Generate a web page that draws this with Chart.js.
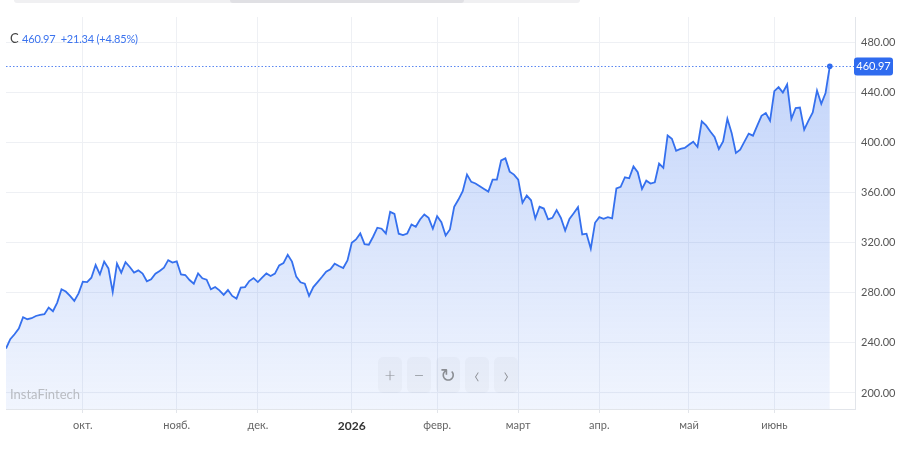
<!DOCTYPE html>
<html>
<head>
<meta charset="utf-8">
<script src="https://cdn.jsdelivr.net/npm/chart.js@4.4.1/dist/chart.umd.min.js"></script>
<style>
    html, body { margin: 0; padding: 0; background: #fff; }
    .wrap { position: relative; width: 900px; height: 452px; overflow: hidden; font-family: 'Lato', 'Noto Sans', sans-serif; }
    canvas { position: absolute; left: 0; top: 0; }
    .scroll { position: absolute; left: 14px; top: 0; width: 566px; height: 3px; background: #f0f0f2; border-radius: 0 0 4px 4px; }
    .scroll span { position: absolute; left: 216px; width: 234px; top: 0; height: 3px; background: #e0e0e4; border-radius: 0 0 3px 3px; }
    .head { position: absolute; left: 10px; top: 30px; font-size: 11px; color: #3b73ee; white-space: nowrap; letter-spacing: -0.2px; }
    .head b { font-weight: normal; color: #444; font-size: 13px; margin-right: 1px; }
    .mark { position: absolute; left: 10px; top: 386px; font-size: 13px; color: #b9bcc2; }
    .btns { position: absolute; left: 378px; top: 357px; display: flex; gap: 5px; }
    .btns div { width: 24px; height: 36px; border-radius: 5px; background: rgba(0,0,0,0.025); color: #8a8d93; font-size: 19px; font-weight: 300; line-height: 36px; text-align: center; }
    .btns div.ch { font-size: 24px; line-height: 34px; }
</style>
</head>
<body>
<div class="wrap">
    <canvas id="priceChart" width="900" height="452"></canvas>
    <div class="scroll"><span></span></div>
    <div class="head"><b>C</b> 460.97 &nbsp;+21.34 (+4.85%)</div>
    <div class="mark">InstaFintech</div>
    <div class="btns"><div>+</div><div>&minus;</div><div>&#x21BB;</div><div class="ch">&lsaquo;</div><div class="ch">&rsaquo;</div></div>
</div>
<script>
const closes = [
    235.5, 243.0, 246.9, 251.5, 260.5, 258.9, 259.7, 261.5, 262.3, 262.9,
    268.2, 265.3, 272.2, 282.8, 281.0, 277.5, 273.5, 279.6, 288.9, 288.6,
    292.1, 302.2, 294.7, 304.9, 299.5, 280.6, 303.3, 296.1, 304.5, 300.6,
    296.1, 297.9, 295.3, 289.2, 290.8, 295.3, 297.4, 300.1, 306.1, 304.1,
    305.1, 294.7, 294.2, 290.2, 287.3, 295.5, 291.6, 290.5, 282.8, 284.6,
    282.0, 278.3, 282.2, 277.5, 275.4, 284.1, 284.6, 289.4, 291.8, 288.6,
    292.1, 295.5, 293.4, 295.3, 301.9, 303.7, 310.3, 304.9, 292.9, 288.4,
    287.3, 277.5, 284.6, 288.6, 292.6, 296.9, 298.7, 303.3, 301.4, 299.8,
    305.9, 320.0, 322.6, 327.4, 318.9, 318.4, 324.8, 332.0, 331.2, 327.4,
    344.7, 343.1, 327.2, 326.1, 327.4, 334.6, 332.8, 338.6, 342.6, 339.9,
    331.2, 341.2, 336.4, 325.8, 330.6, 348.7, 354.5, 361.1, 374.4, 368.6,
    367.3, 365.1, 363.0, 360.9, 370.4, 370.4, 385.8, 387.4, 376.8, 374.4,
    370.4, 351.9, 357.7, 353.9, 339.4, 348.7, 347.3, 338.6, 339.9, 346.0,
    339.8, 329.8, 339.0, 343.6, 348.4, 326.6, 327.2, 315.2, 335.9, 340.4,
    339.1, 340.4, 339.4, 363.3, 364.6, 372.3, 371.5, 381.0, 376.3, 363.0,
    369.6, 367.3, 368.3, 383.2, 379.8, 405.7, 403.1, 393.5, 394.9, 395.7,
    398.3, 400.7, 396.5, 416.9, 413.7, 408.9, 404.5, 394.9, 401.0, 419.0,
    407.7, 391.7, 394.3, 400.7, 407.1, 405.5, 413.5, 421.4, 423.6, 417.5,
    441.1, 444.3, 440.0, 446.4, 419.0, 427.6, 428.0, 410.3, 417.5, 424.1,
    441.6, 431.0, 439.63, 460.97
];
const monthStarts = [18, 40, 59, 81, 101, 120, 139, 160, 180];
const monthLabels = ['окт.', 'нояб.', 'дек.', '2026', 'февр.', 'март', 'апр.', 'май', 'июнь'];
const priceTicks = [200, 240, 280, 320, 360, 400, 440, 480];

const lineBlue = '#3570ee';
const last = closes[closes.length - 1];

const priceTag = {
    id: 'priceTag',
    afterDraw(chart) {
        const { ctx, chartArea, scales } = chart;
        const y = Math.round(scales.y.getPixelForValue(last)) + 0.5;
        ctx.save();
        ctx.strokeStyle = '#5a87f1';
        ctx.lineWidth = 1;
        ctx.setLineDash([1.5, 2]);
        ctx.beginPath();
        ctx.moveTo(chartArea.left, y);
        ctx.lineTo(chartArea.right, y);
        ctx.stroke();
        ctx.setLineDash([]);
        ctx.fillStyle = '#2f6bef';
        ctx.beginPath();
        ctx.roundRect(chartArea.right - 1, y - 9, 39, 18, 3);
        ctx.fill();
        ctx.fillStyle = '#fff';
        ctx.font = '11px Lato, "Noto Sans", sans-serif';
        ctx.textAlign = 'center';
        ctx.textBaseline = 'middle';
        ctx.fillText(last.toFixed(2), chartArea.right + 18.5, y);
        ctx.restore();
    }
};

new Chart(document.getElementById('priceChart'), {
    type: 'line',
    data: {
        datasets: [{
            data: closes.map((v, i) => ({ x: i, y: v })),
            borderColor: lineBlue,
            borderWidth: 1.8,
            tension: 0,
            fill: 'start',
            backgroundColor: c => {
                const a = c.chart.chartArea;
                if (!a) return 'rgba(53,112,238,0.15)';
                const g = c.chart.ctx.createLinearGradient(0, a.top + 40, 0, a.bottom);
                g.addColorStop(0, 'rgba(53,112,238,0.30)');
                g.addColorStop(1, 'rgba(53,112,238,0.07)');
                return g;
            },
            pointRadius: c => c.dataIndex === closes.length - 1 ? 2.8 : 0,
            pointBackgroundColor: '#2f6bef',
            pointBorderWidth: 0,
        }]
    },
    options: {
        responsive: false,
        animation: false,
        layout: { padding: { left: 6, top: 17, right: 0, bottom: 0 } },
        plugins: { legend: { display: false }, tooltip: { enabled: false } },
        scales: {
            x: {
                type: 'linear', min: 0, max: 198.9,
                afterBuildTicks: s => { s.ticks = monthStarts.map(v => ({ value: v })); },
                afterFit: s => { s.height = 43; },
                grid: { color: '#eef0f4', tickLength: 4, tickColor: '#e2e5ea' },
                border: { color: '#e2e5ea' },
                ticks: {
                    autoSkip: false, maxRotation: 0, padding: 6,
                    callback: v => monthLabels[monthStarts.indexOf(v)],
                    color: c => c.tick && c.tick.value === 81 ? '#333' : '#666',
                    font: c => c.tick && c.tick.value === 81
                        ? { size: 12, weight: 'bold', family: 'Lato, "Noto Sans", sans-serif' }
                        : { size: 11, family: 'Lato, "Noto Sans", sans-serif' }
                }
            },
            y: {
                position: 'right', min: 187.2, max: 500.3,
                afterBuildTicks: s => { s.ticks = priceTicks.map(v => ({ value: v })); },
                afterFit: s => { s.width = 45; },
                grid: { color: '#eef0f4', drawTicks: false },
                border: { color: '#e2e5ea' },
                ticks: {
                    padding: 6, color: '#555',
                    font: { size: 11, family: 'Lato, "Noto Sans", sans-serif' },
                    callback: v => v.toFixed(2)
                }
            }
        }
    },
    plugins: [priceTag]
});
</script>
</body>
</html>
